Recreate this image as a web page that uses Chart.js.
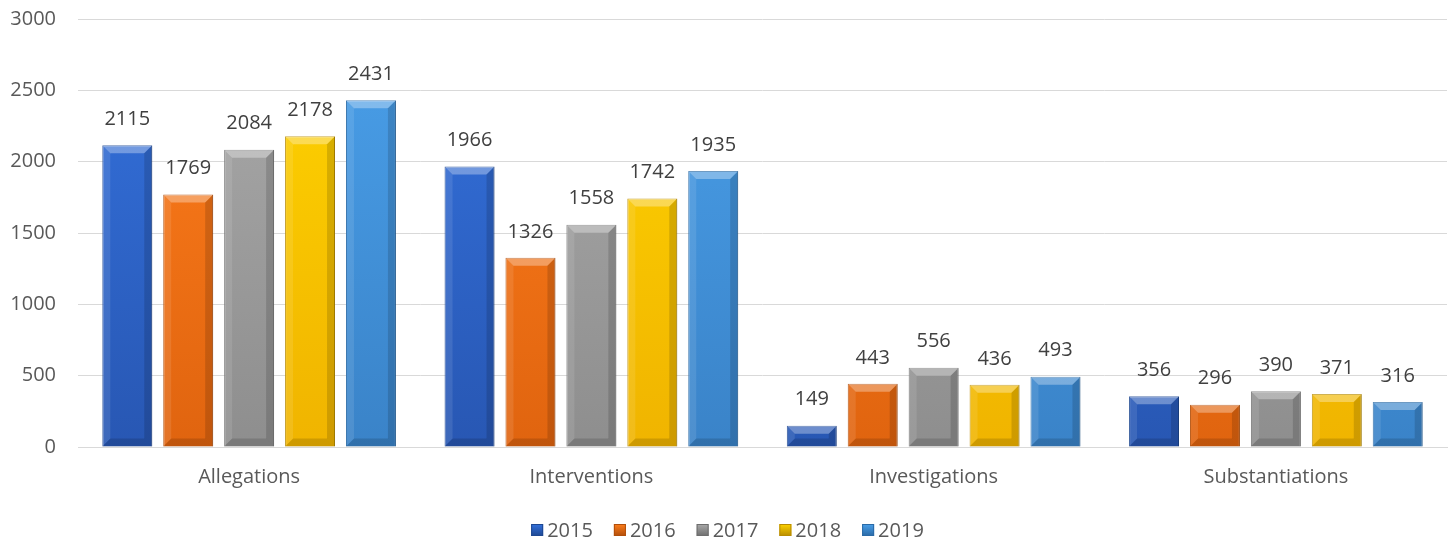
<!DOCTYPE html>
<html>
<head>
<meta charset="utf-8">
<script src="https://cdn.jsdelivr.net/npm/chart.js@4.4.1/dist/chart.umd.min.js"></script>
<style>
  html, body { margin: 0; padding: 0; background: #ffffff; }
  #wrap { width: 1455px; height: 544px; position: relative; }
</style>
</head>
<body>
<div id="wrap"><canvas id="c" width="1455" height="544"></canvas></div>
<script>
const categories = ["Allegations", "Interventions", "Investigations", "Substantiations"];
const seriesNames = ["2015", "2016", "2017", "2018", "2019"];
const values2015 = [2115, 1966, 149, 356];
const values2016 = [1769, 1326, 443, 296];
const values2017 = [2084, 1558, 556, 390];
const values2018 = [2178, 1742, 436, 371];
const values2019 = [2431, 1935, 493, 316];
const yTicks = [0, 500, 1000, 1500, 2000, 2500, 3000];

const palette = [
  { top: "#3472DE", bottom: "#2857B3", edge: "#1E4791" },
  { top: "#FF7E1C", bottom: "#E0640F", edge: "#B14E0A" },
  { top: "#AAAAAA", bottom: "#8E8E8E", edge: "#6E6E6E" },
  { top: "#FFD400", bottom: "#F0B400", edge: "#B88C00" },
  { top: "#4AA0EA", bottom: "#3A83C8", edge: "#2A6AA6" }
];
const allValues = [values2015, values2016, values2017, values2018, values2019];

const FONT = "'Open Sans', 'DejaVu Sans', sans-serif";
const TEXT = "#595959";

function fillFor(i) {
  return function (ctx) {
    const chart = ctx.chart;
    const area = chart.chartArea;
    if (!area) return palette[i].top;
    const g = chart.ctx.createLinearGradient(0, area.top, 0, area.bottom);
    g.addColorStop(0, palette[i].top);
    g.addColorStop(1, palette[i].bottom);
    return g;
  };
}

const datasets = seriesNames.map((name, i) => ({
  label: name,
  data: allValues[i],
  backgroundColor: fillFor(i),
  borderColor: palette[i].edge,
  borderWidth: 1,
  barPercentage: 0.82,
  categoryPercentage: 0.89
}));

const bevelPlugin = {
  id: "bevel",
  afterDatasetsDraw(chart) {
    const c = chart.ctx;
    chart.data.datasets.forEach((ds, di) => {
      const meta = chart.getDatasetMeta(di);
      meta.data.forEach((bar, idx) => {
        const x0 = bar.x - bar.width / 2, x1 = bar.x + bar.width / 2;
        const y0 = bar.y, y1 = bar.base;
        const h = y1 - y0;
        const b = Math.min(8, h / 2);
        c.save();
        c.fillStyle = "rgba(255,255,255,0.32)";
        c.beginPath();
        c.moveTo(x0, y0); c.lineTo(x1, y0); c.lineTo(x1 - b, y0 + b); c.lineTo(x0 + b, y0 + b); c.closePath(); c.fill();
        c.fillStyle = "rgba(255,255,255,0.10)";
        c.beginPath();
        c.moveTo(x0, y0); c.lineTo(x0 + b, y0 + b); c.lineTo(x0 + b, y1 - b); c.lineTo(x0, y1); c.closePath(); c.fill();
        c.fillStyle = "rgba(0,0,0,0.14)";
        c.beginPath();
        c.moveTo(x1, y0); c.lineTo(x1 - b, y0 + b); c.lineTo(x1 - b, y1 - b); c.lineTo(x1, y1); c.closePath(); c.fill();
        c.fillStyle = "rgba(0,0,0,0.14)";
        c.beginPath();
        c.moveTo(x0, y1); c.lineTo(x0 + b, y1 - b); c.lineTo(x1 - b, y1 - b); c.lineTo(x1, y1); c.closePath(); c.fill();
        c.restore();

        c.save();
        c.font = "20px " + FONT;
        c.fillStyle = "#404040";
        c.textAlign = "center";
        c.textBaseline = "middle";
        c.fillText(String(ds.data[idx]), bar.x, y0 - 26);
        c.restore();
      });
    });
  }
};

const legendPlugin = {
  id: "customLegend",
  afterDraw(chart) {
    const c = chart.ctx;
    c.save();
    c.font = "20px " + FONT;
    const box = 12, gapBox = 4, gapItem = 21;
    const widths = seriesNames.map(n => c.measureText(n).width);
    let total = 0;
    widths.forEach((w, i) => { total += box + gapBox + w + (i < widths.length - 1 ? gapItem : 0); });
    let x = (chart.width - total) / 2;
    const yc = 530;
    seriesNames.forEach((n, i) => {
      const g = c.createLinearGradient(0, yc - box / 2, 0, yc + box / 2);
      g.addColorStop(0, palette[i].top);
      g.addColorStop(1, palette[i].edge);
      c.fillStyle = g;
      c.fillRect(x, yc - box / 2, box, box);
      c.strokeStyle = palette[i].edge;
      c.lineWidth = 1;
      c.strokeRect(x + 0.5, yc - box / 2 + 0.5, box - 1, box - 1);
      c.fillStyle = TEXT;
      c.textAlign = "left";
      c.textBaseline = "middle";
      c.fillText(n, x + box + gapBox, yc + 1);
      x += box + gapBox + widths[i] + gapItem;
    });
    c.restore();
  }
};

new Chart(document.getElementById("c"), {
  type: "bar",
  data: { labels: categories, datasets },
  options: {
    responsive: false,
    animation: false,
    layout: { padding: { top: 19, right: 8, bottom: 0, left: 0 } },
    plugins: {
      legend: { display: false },
      tooltip: { enabled: false }
    },
    scales: {
      x: {
        grid: { display: false, drawTicks: false },
        border: { display: true, color: "#d9d9d9", width: 1 },
        ticks: { color: TEXT, font: { family: FONT, size: 20 }, padding: 18 },
        afterFit(scale) { scale.height = 97; scale.paddingLeft = 0; scale.paddingRight = 0; }
      },
      y: {
        min: 0, max: 3000,
        afterBuildTicks(scale) { scale.ticks = yTicks.map(v => ({ value: v })); },
        grid: { color: "#d9d9d9", drawTicks: false, lineWidth: 1 },
        border: { display: false },
        ticks: { color: TEXT, font: { family: FONT, size: 20 }, padding: 22, callback: (v) => String(v) },
        afterFit(scale) { scale.width = 78; scale.paddingTop = 0; scale.paddingBottom = 0; }
      }
    }
  },
  plugins: [bevelPlugin, legendPlugin]
});
</script>
</body>
</html>
